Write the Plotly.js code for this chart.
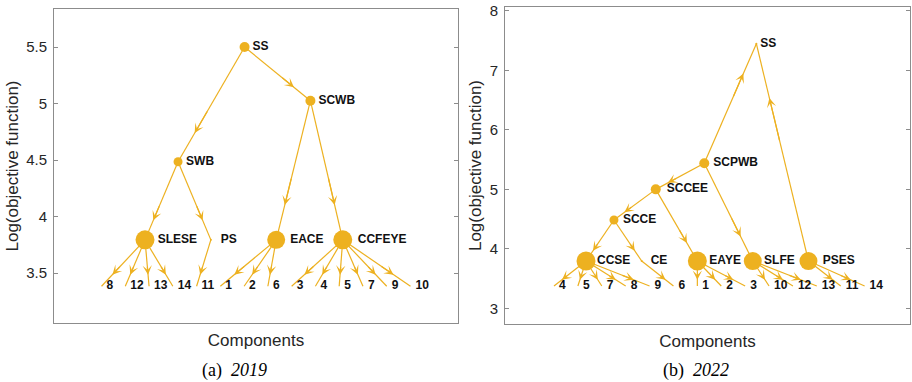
<!DOCTYPE html>
<html><head><meta charset="utf-8">
<script src="https://cdn.plot.ly/plotly-3.0.1.min.js"></script>
<style>html,body{margin:0;padding:0;background:#fff;} #chart{width:912px;height:382px;}</style>
</head><body><div id="chart"></div>
<script>
// ---------- (a) 2019 ----------
const nodes2019 = ['SS', 'SCWB', 'SWB', 'SLESE', 'PS', 'EACE', 'CCFEYE'];
const nodeX2019 = [7.02, 9.79, 4.22, 2.83, 5.6, 8.35, 11.15];
const nodeLogObj2019 = [5.5, 5.025, 4.486, 3.795, 3.795, 3.795, 3.795];
const edgeFrom2019 = ['SS', 'SS', 'SWB', 'SWB', 'SCWB', 'SCWB'];
const edgeTo2019 = ['SWB', 'SCWB', 'SLESE', 'PS', 'EACE', 'CCFEYE'];
const leaves2019 = ['8', '12', '13', '14', '11', '1', '2', '6', '3', '4', '5', '7', '9', '10'];
const leafParent2019 = ['SLESE', 'SLESE', 'SLESE', 'SLESE', 'PS', 'EACE', 'EACE', 'EACE',
  'CCFEYE', 'CCFEYE', 'CCFEYE', 'CCFEYE', 'CCFEYE', 'CCFEYE'];
const leafLogObj2019 = 3.385;
const yTicks2019 = [3.5, 4, 4.5, 5, 5.5];
const yTickText2019 = ['3.5', '4', '4.5', '5', '5.5'];

// ---------- (b) 2022 ----------
const nodes2022 = ['SS', 'SCPWB', 'SCCEE', 'SCCE', 'CCSE', 'CE', 'EAYE', 'SLFE', 'PSES'];
const nodeX2022 = [9.47, 7.29, 5.26, 3.51, 2.34, 4.67, 7.0, 9.32, 11.65];
const nodeLogObj2022 = [7.45, 5.44, 5.0, 4.485, 3.795, 3.795, 3.795, 3.795, 3.795];
const edgeFrom2022 = ['SCPWB', 'PSES', 'SCPWB', 'SCPWB', 'SCCEE', 'SCCEE', 'SCCE', 'SCCE'];
const edgeTo2022 = ['SS', 'SS', 'SCCEE', 'SLFE', 'SCCE', 'EAYE', 'CCSE', 'CE'];
const leaves2022 = ['4', '5', '7', '8', '9', '6', '1', '2', '3', '10', '12', '13', '11', '14'];
const leafParent2022 = ['CCSE', 'CCSE', 'CCSE', 'CCSE', 'CCSE', 'CE', 'EAYE', 'EAYE', 'EAYE',
  'SLFE', 'SLFE', 'SLFE', 'PSES', 'PSES'];
const leafLogObj2022 = 3.375;
const yTicks2022 = [3, 4, 5, 6, 7, 8];
const yTickText2022 = ['3', '4', '5', '6', '7', '8'];

// ---------- styles ----------
const nodeSize2019 = [10, 10, 9, 19, 2, 18, 19];
const labelGap2019 = [11.2, 11.2, 11.2, 18.7, 14.4, 20.8, 22.4];
const nodeSize2022 = [2, 10, 10, 9, 19, 2, 19, 18, 18];
const labelGap2022 = [4.8, 12.8, 16, 12.8, 16, 12.8, 17.6, 16.5, 21.4];
const leafGap = 6.4;

const COLOR = '#EDB120';
const SANS = 'Liberation Sans, Arial, Helvetica, sans-serif';
const AXCOL = '#8c8c8c';
const TXT = '#262626';
const ARROW_AT = 0.75;

function panel(p, xr, yr) {
  const pos = {};
  p.nodes.forEach((n, i) => { pos[n] = [p.nodeX[i], p.nodeY[i]]; });
  const leafX = p.leaves.map((_, i) => i + 1);
  const leafY = p.leaves.map(() => p.leafY);
  const segs = [];
  p.edgeFrom.forEach((f, i) => segs.push([pos[f], pos[p.edgeTo[i]]]));
  p.leafParent.forEach((f, i) => segs.push([pos[f], [leafX[i], leafY[i]]]));
  const ex = [], ey = [];
  const ann = [];
  segs.forEach(([s, t]) => {
    ex.push(s[0], t[0], null); ey.push(s[1], t[1], null);
    ann.push({
      xref: xr, yref: yr, axref: xr, ayref: yr,
      x: s[0] + ARROW_AT * (t[0] - s[0]), y: s[1] + ARROW_AT * (t[1] - s[1]),
      ax: s[0] + (ARROW_AT - 0.2) * (t[0] - s[0]), ay: s[1] + (ARROW_AT - 0.2) * (t[1] - s[1]),
      text: '', showarrow: true, arrowhead: 3, arrowsize: 1.3, arrowwidth: 1.2,
      arrowcolor: COLOR, standoff: 0, startstandoff: 0
    });
  });
  const traces = [
    { type: 'scatter', mode: 'lines', x: ex, y: ey, xaxis: xr, yaxis: yr,
      line: { color: COLOR, width: 1.2 }, hoverinfo: 'skip', showlegend: false },
    { type: 'scatter', mode: 'markers', x: p.nodeX, y: p.nodeY, xaxis: xr, yaxis: yr,
      marker: { color: COLOR, size: p.nodeSize, opacity: 1, line: { width: 0 } },
      hoverinfo: 'skip', showlegend: false },
    { type: 'scatter', mode: 'markers+text', x: p.nodeX, y: p.nodeY, xaxis: xr, yaxis: yr,
      text: p.nodes, textposition: 'middle right',
      textfont: { family: SANS, size: 12, color: '#111', weight: 'bold' },
      marker: { color: 'rgba(0,0,0,0)', size: p.labelGap, line: { width: 0 } },
      hoverinfo: 'skip', showlegend: false },
    { type: 'scatter', mode: 'markers+text', x: leafX, y: leafY, xaxis: xr, yaxis: yr,
      text: p.leaves, textposition: 'middle right',
      textfont: { family: SANS, size: 12, color: '#111', weight: 'bold' },
      marker: { color: 'rgba(0,0,0,0)', size: leafGap, line: { width: 0 } },
      hoverinfo: 'skip', showlegend: false }
  ];
  return { traces, ann };
}

const pA = panel({ nodes: nodes2019, nodeX: nodeX2019, nodeY: nodeLogObj2019, edgeFrom: edgeFrom2019,
  edgeTo: edgeTo2019, leaves: leaves2019, leafParent: leafParent2019, leafY: leafLogObj2019,
  nodeSize: nodeSize2019, labelGap: labelGap2019 }, 'x', 'y');
const pB = panel({ nodes: nodes2022, nodeX: nodeX2022, nodeY: nodeLogObj2022, edgeFrom: edgeFrom2022,
  edgeTo: edgeTo2022, leaves: leaves2022, leafParent: leafParent2022, leafY: leafLogObj2022,
  nodeSize: nodeSize2022, labelGap: labelGap2022 }, 'x2', 'y2');

function xax(domain, range, anchor) {
  return {
    domain, range, anchor, showline: true, mirror: true, linecolor: AXCOL, linewidth: 1,
    ticks: '', showticklabels: false, showgrid: false, zeroline: false, fixedrange: true,
    title: { text: 'Components', font: { family: SANS, size: 17, color: TXT }, standoff: 11 }
  };
}
function yax(domain, range, anchor, tv, tt) {
  return {
    domain, range, anchor, showline: true, mirror: 'ticks', linecolor: AXCOL, linewidth: 1,
    ticks: 'inside', ticklen: 4, tickcolor: AXCOL, tickwidth: 1, tickvals: tv, ticktext: tt,
    tickfont: { family: SANS, size: 15, color: TXT }, ticklabelstandoff: 3,
    showgrid: false, zeroline: false, fixedrange: true,
    title: { text: 'Log(objective function)', font: { family: SANS, size: 17, color: TXT }, standoff: 3 }
  };
}

const W = 912, H = 382;
const CAPFONT = { family: 'Liberation Serif, DejaVu Serif, serif', size: 18, color: '#000' };
const layout = {
  width: W, height: H, margin: { l: 0, r: 0, t: 0, b: 0 },
  paper_bgcolor: '#fff', plot_bgcolor: '#fff', showlegend: false,
  xaxis: xax([54 / W, 458 / W], [-1, 16], 'y'),
  yaxis: yax([(H - 323) / H, (H - 9) / H], [3.06, 5.836], 'x', yTicks2019, yTickText2019),
  xaxis2: xax([505 / W, 910 / W], [-1.05, 15.9], 'y2'),
  yaxis2: yax([(H - 324) / H, (H - 7) / H], [2.736, 8.067], 'x2', yTicks2022, yTickText2022),
  annotations: pA.ann.concat(pB.ann).concat([
    { xref: 'paper', yref: 'paper', x: 234 / W, y: (H - 370) / H, xanchor: 'center', yanchor: 'middle',
      text: '(a)  <i>2019</i>', showarrow: false, font: CAPFONT },
    { xref: 'paper', yref: 'paper', x: 696 / W, y: (H - 370) / H, xanchor: 'center', yanchor: 'middle',
      text: '(b)  <i>2022</i>', showarrow: false, font: CAPFONT }
  ])
};

Plotly.newPlot('chart', pA.traces.concat(pB.traces), layout, { staticPlot: true, displayModeBar: false });
</script>
</body></html>
